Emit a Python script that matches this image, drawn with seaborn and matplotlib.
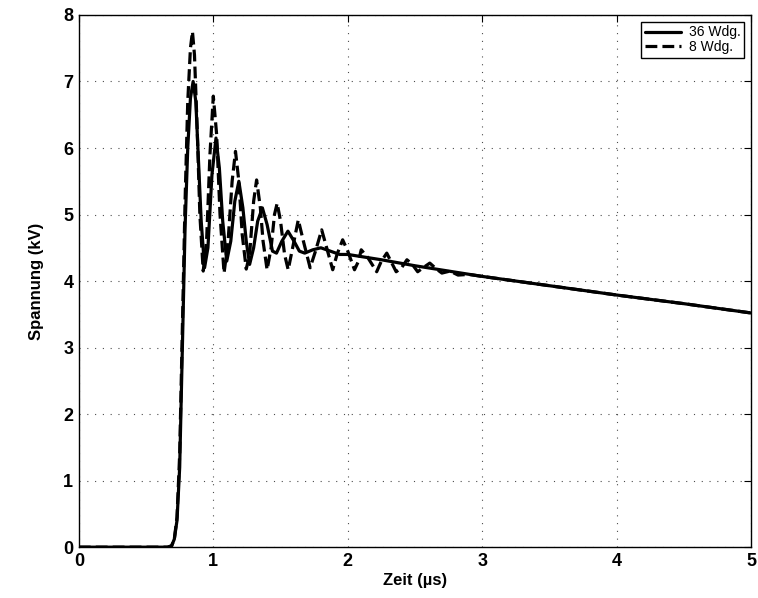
import matplotlib
matplotlib.use("Agg")
import matplotlib.pyplot as plt
import seaborn as sns
import pandas as pd

# 36 Wdg. (solid)
t_36 = [0, 0.66, 0.69, 0.71, 0.73, 0.75, 0.77, 0.79, 0.81, 0.83, 0.85, 0.87, 0.89, 0.91,
        0.935, 0.96, 0.99, 1.02, 1.045, 1.07, 1.10, 1.13, 1.16, 1.19, 1.22, 1.245, 1.27,
        1.30, 1.33, 1.365, 1.40, 1.44, 1.47, 1.51, 1.555, 1.60, 1.64, 1.68, 1.74, 1.80,
        1.87, 1.94, 2.0, 2.25, 2.5, 3.0, 3.5, 4.0, 4.5, 5.0]
u_36 = [0, 0, 0.02, 0.12, 0.4, 1.2, 3.0, 4.8, 6.0, 6.75, 7.0, 6.7, 5.8, 4.9,
        4.2, 4.5, 5.6, 6.15, 5.7, 4.9, 4.3, 4.6, 5.2, 5.5, 5.1, 4.6, 4.25,
        4.5, 4.9, 5.1, 4.85, 4.45, 4.42, 4.6, 4.75, 4.6, 4.45, 4.42, 4.47, 4.50,
        4.45, 4.4, 4.4, 4.32, 4.23, 4.07, 3.93, 3.79, 3.66, 3.52]

# 8 Wdg. (dashed)
t_8 = [0, 0.66, 0.69, 0.71, 0.73, 0.75, 0.77, 0.79, 0.81, 0.83, 0.845, 0.86, 0.88, 0.90,
       0.925, 0.95, 0.975, 1.0, 1.025, 1.05, 1.08, 1.11, 1.14, 1.165, 1.19, 1.215, 1.245,
       1.27, 1.30, 1.322, 1.35, 1.37, 1.40, 1.43, 1.455, 1.475, 1.50, 1.53, 1.557, 1.59,
       1.632, 1.67, 1.72, 1.76, 1.806, 1.85, 1.888, 1.92, 1.962, 2.0, 2.05, 2.08, 2.10,
       2.15, 2.215, 2.25, 2.29, 2.32, 2.36, 2.40, 2.44, 2.48, 2.52, 2.56, 2.61, 2.66,
       2.70, 2.76, 2.82, 2.9, 3.0, 3.5, 4.0, 4.5, 5.0]
u_8 = [0, 0, 0.02, 0.12, 0.45, 1.4, 3.3, 5.2, 6.7, 7.5, 7.75, 7.4, 6.3, 5.0,
       4.15, 4.6, 5.9, 6.78, 6.2, 5.0, 4.12, 4.6, 5.5, 5.95, 5.5, 4.7, 4.18,
       4.4, 5.2, 5.52, 5.1, 4.6, 4.17, 4.5, 5.0, 5.17, 4.9, 4.4, 4.17, 4.5,
       4.92, 4.6, 4.2, 4.45, 4.77, 4.45, 4.17, 4.4, 4.62, 4.45, 4.17, 4.3, 4.47,
       4.35, 4.14, 4.3, 4.42, 4.3, 4.14, 4.2, 4.32, 4.25, 4.14, 4.2, 4.27, 4.18,
       4.12, 4.15, 4.09, 4.1, 4.07, 3.93, 3.79, 3.66, 3.52]

x_ticks = [0, 1, 2, 3, 4, 5]
y_ticks = [0, 1, 2, 3, 4, 5, 6, 7, 8]

sns.set_style("white")
plt.rcParams['font.family'] = ['Liberation Sans', 'DejaVu Sans']
plt.rcParams['font.weight'] = 'bold'
plt.rcParams['axes.labelweight'] = 'bold'
plt.rcParams['text.color'] = 'black'
plt.rcParams['axes.labelcolor'] = 'black'
plt.rcParams['xtick.color'] = 'black'
plt.rcParams['ytick.color'] = 'black'

fig = plt.figure(figsize=(7.58, 5.98), dpi=100)
ax = fig.add_axes([0.104, 0.085, 0.887, 0.89])

df36 = pd.DataFrame({"t": t_36, "u": u_36})
df8 = pd.DataFrame({"t": t_8, "u": u_8})
sns.lineplot(data=df36, x="t", y="u", ax=ax, color="black", linewidth=2.3,
             label="36 Wdg.", sort=False)
sns.lineplot(data=df8, x="t", y="u", ax=ax, color="black", linewidth=2.3,
             linestyle="--", label="8 Wdg.", sort=False)

ax.set_xlim(0, 5)
ax.set_ylim(0, 8)
ax.set_xticks(x_ticks)
ax.set_yticks(y_ticks)
ax.set_xticklabels([str(v) for v in x_ticks], fontsize=13, fontweight='bold')
ax.set_yticklabels([str(v) for v in y_ticks], fontsize=13, fontweight='bold')
ax.set_xlabel("Zeit (\u00b5s)", fontsize=12, fontweight='bold', labelpad=2)
ax.set_ylabel("Spannung (kV)", fontsize=12, fontweight='bold', labelpad=14)
ax.tick_params(direction='in', length=5, width=0.8, color='black', pad=4,
               top=True, right=True)
ax.grid(True, linestyle=(0, (1, 6)), color='black', linewidth=0.8, alpha=0.7)
for s in ax.spines.values():
    s.set_color('black')
    s.set_linewidth(1.0)
    s.set_visible(True)

leg = ax.legend(loc='upper right', fontsize=10, frameon=True, fancybox=False,
                edgecolor='black', framealpha=1, handlelength=2.6,
                borderpad=0.25, labelspacing=0.05, borderaxespad=0.5,
                handletextpad=0.6)
leg.get_frame().set_linewidth(1.0)
for txt in leg.get_texts():
    txt.set_fontweight('normal')

fig.savefig("out.png", dpi=100)
